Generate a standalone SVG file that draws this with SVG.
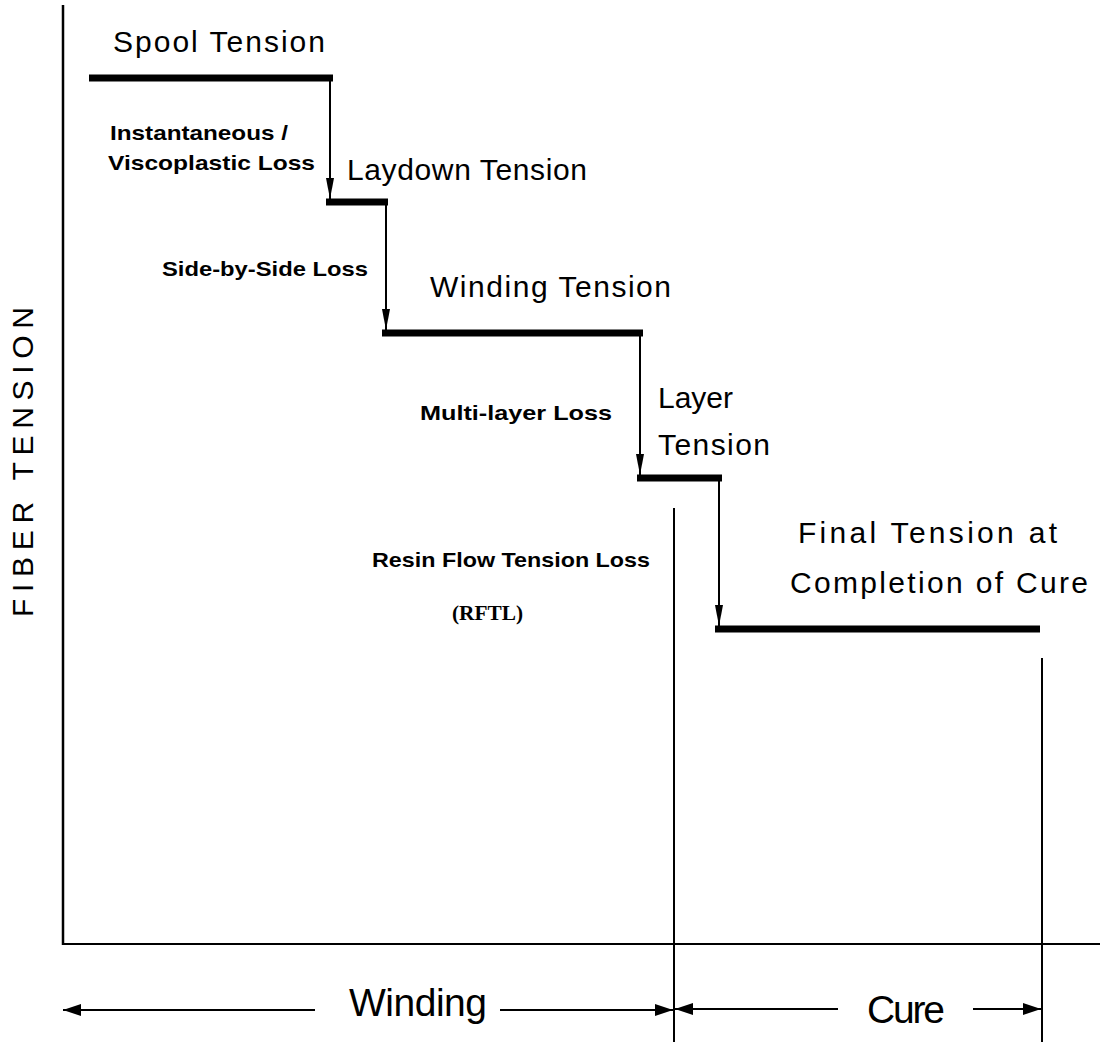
<svg xmlns="http://www.w3.org/2000/svg" width="1103" height="1042" viewBox="0 0 1103 1042">
<style>
.big{font-family:"Liberation Sans",Arial,sans-serif;font-size:30px;fill:#000}
.sm{font-family:"Liberation Sans",Arial,sans-serif;font-size:21px;font-weight:bold;fill:#000}
.ser{font-family:"Liberation Serif","Times New Roman",serif;font-size:21px;font-weight:bold;fill:#000}
.ax{font-family:"Liberation Sans",Arial,sans-serif;font-size:39px;fill:#000}
.bar{stroke:#000;stroke-width:7;fill:none}
.thin{stroke:#000;stroke-width:2;fill:none}
</style>
<defs>
<marker id="ah" markerUnits="userSpaceOnUse" markerWidth="22" markerHeight="10" viewBox="0 -5 22 10" refX="21" refY="0" orient="auto">
<path d="M0,-4 L21,0 L0,4 z" fill="#000"/>
</marker>
<marker id="dh" markerUnits="userSpaceOnUse" markerWidth="20" markerHeight="14" viewBox="0 -7 20 14" refX="18" refY="0" orient="auto">
<path d="M0,-6 L18,0 L0,6 z" fill="#000"/>
</marker>
</defs>
<rect width="1103" height="1042" fill="#fff"/>
<g id="axes">
<line class="thin" x1="63" y1="5" x2="63" y2="945" style="stroke-width:2.5"/>
<line class="thin" x1="62" y1="944" x2="1100" y2="944"/>
<text class="big" transform="translate(33,462) rotate(-90)" text-anchor="middle" textLength="310" lengthAdjust="spacing">FIBER TENSION</text>
</g>
<g id="spool">
<line class="bar" x1="89" y1="78" x2="333" y2="78"/>
<text class="big" x="113" y="52" textLength="212" lengthAdjust="spacing">Spool Tension</text>
</g>
<g id="laydown">
<line class="bar" x1="326" y1="202" x2="388" y2="202"/>
<text class="big" x="347" y="180" textLength="240" lengthAdjust="spacing">Laydown Tension</text>
</g>
<g id="winding">
<line class="bar" x1="382" y1="333" x2="643" y2="333"/>
<text class="big" x="430" y="297" textLength="241" lengthAdjust="spacing">Winding Tension</text>
</g>
<g id="layer">
<line class="bar" x1="637" y1="478" x2="722" y2="478"/>
<text class="big" x="658" y="408" textLength="75" lengthAdjust="spacing">Layer</text>
<text class="big" x="658" y="455" textLength="112" lengthAdjust="spacing">Tension</text>
</g>
<g id="final">
<line class="bar" x1="715" y1="629" x2="1040" y2="629"/>
<text class="big" x="798" y="543" textLength="259" lengthAdjust="spacing">Final Tension at</text>
<text class="big" x="790" y="593" textLength="298" lengthAdjust="spacing">Completion of Cure</text>
</g>
<g id="labels">
<text class="sm" x="110" y="140" textLength="178" lengthAdjust="spacingAndGlyphs">Instantaneous /</text>
<text class="sm" x="108" y="170" textLength="207" lengthAdjust="spacingAndGlyphs">Viscoplastic Loss</text>
<text class="sm" x="162" y="276" textLength="206" lengthAdjust="spacingAndGlyphs">Side-by-Side Loss</text>
<text class="sm" x="420" y="420" textLength="192" lengthAdjust="spacingAndGlyphs">Multi-layer Loss</text>
<text class="sm" x="372" y="567" textLength="278" lengthAdjust="spacingAndGlyphs">Resin Flow Tension Loss</text>
<text class="ser" x="452" y="620" textLength="71" lengthAdjust="spacingAndGlyphs">(RFTL)</text>
</g>
<g id="phases">
<line class="thin" x1="674" y1="508" x2="674" y2="1042"/>
<line class="thin" x1="1042" y1="658" x2="1042" y2="1042"/>
<text class="ax" x="349" y="1016" textLength="138" lengthAdjust="spacing">Winding</text>
<text class="ax" x="867" y="1023" textLength="78" lengthAdjust="spacing">Cure</text>
</g>
<g id="connectors">
<line class="thin" x1="330" y1="78" x2="330" y2="199" marker-end="url(#ah)"/>
<line class="thin" x1="386" y1="202" x2="386" y2="330" marker-end="url(#ah)"/>
<line class="thin" x1="640" y1="333" x2="640" y2="475" marker-end="url(#ah)"/>
<line class="thin" x1="719" y1="478" x2="719" y2="626" marker-end="url(#ah)"/>
<line class="thin" x1="315" y1="1010" x2="63" y2="1010" marker-end="url(#dh)"/>
<line class="thin" x1="500" y1="1010" x2="673" y2="1010" marker-end="url(#dh)"/>
<line class="thin" x1="838" y1="1009" x2="675" y2="1009" marker-end="url(#dh)"/>
<line class="thin" x1="973" y1="1009" x2="1041" y2="1009" marker-end="url(#dh)"/>
</g>
</svg>
